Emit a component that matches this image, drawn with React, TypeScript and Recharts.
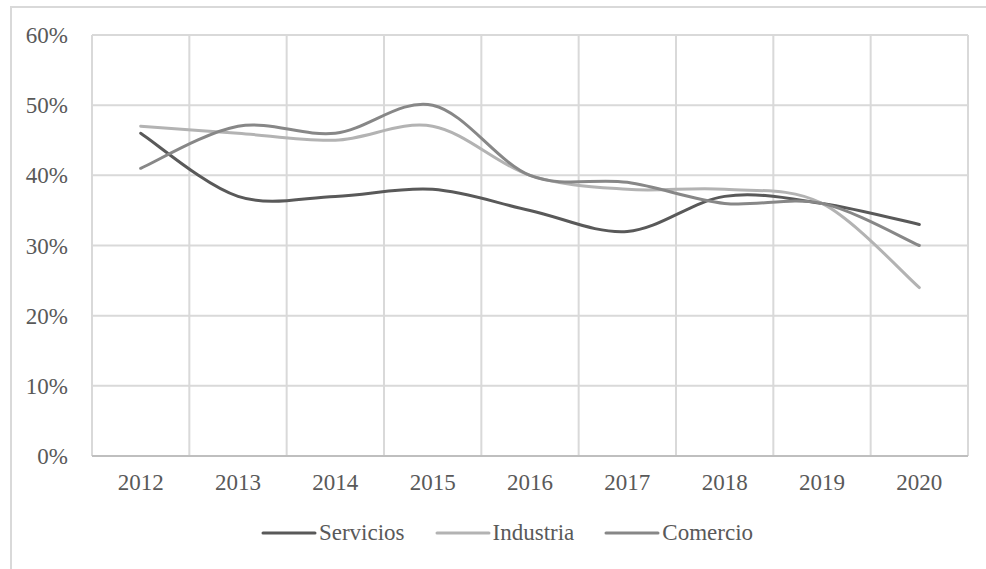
import React from 'react'
import { LineChart, Line, XAxis, YAxis, CartesianGrid } from 'recharts'

const years = ['2012', '2013', '2014', '2015', '2016', '2017', '2018', '2019', '2020']
const servicios = [46, 37, 37, 38, 35, 32, 37, 36, 33]
const industria = [47, 46, 45, 47, 40, 38, 38, 36, 24]
const comercio = [41, 47, 46, 50, 40, 39, 36, 36, 30]
const yTicks = [0, 10, 20, 30, 40, 50, 60]

const series = [
  { key: 'Servicios', color: '#595959' },
  { key: 'Industria', color: '#b3b3b3' },
  { key: 'Comercio', color: '#878787' },
]

const font = '"Liberation Serif", "Times New Roman", serif'
const textColor = '#595959'

// Excel-like smoothing (Catmull-Rom style bezier)
const smoothCurve = (ctx: any) => {
  let pts: [number, number][] = []
  return {
    areaStart() {},
    areaEnd() {},
    lineStart() { pts = [] },
    point(x: number, y: number) { pts.push([+x, +y]) },
    lineEnd() {
      if (!pts.length) return
      ctx.moveTo(pts[0][0], pts[0][1])
      for (let i = 0; i < pts.length - 1; i++) {
        const p0 = pts[i - 1] || pts[i]
        const p1 = pts[i]
        const p2 = pts[i + 1]
        const p3 = pts[i + 2] || p2
        ctx.bezierCurveTo(
          p1[0] + (p2[0] - p0[0]) / 6, p1[1] + (p2[1] - p0[1]) / 6,
          p2[0] - (p3[0] - p1[0]) / 6, p2[1] - (p3[1] - p1[1]) / 6,
          p2[0], p2[1]
        )
      }
    },
  }
}

const bandEdges = ({ offset }: any) =>
  Array.from({ length: years.length + 1 }, (_, i) => offset.left + (offset.width * i) / years.length)

const LegendRow = () => (
  <div style={{ position: 'absolute', left: 0, top: 520, width: 1014, display: 'flex', justifyContent: 'center', fontFamily: font, fontSize: 23, color: textColor }}>
    {series.map((s) => (
      <div key={s.key} style={{ display: 'flex', alignItems: 'center', margin: '0 15px' }}>
        <svg width={56} height={6} style={{ marginRight: 2 }}>
          <line x1={2} y1={3} x2={54} y2={3} stroke={s.color} strokeWidth={3} strokeLinecap="round" />
        </svg>
        <span>{s.key}</span>
      </div>
    ))}
  </div>
)

const App = () => {
  const data = years.map((y, i) => ({
    year: y,
    Servicios: servicios[i],
    Industria: industria[i],
    Comercio: comercio[i],
  }))

  return (
    <div style={{ position: 'absolute', left: 0, top: 0, width: 986, height: 569, overflow: 'hidden', background: '#fff' }}>
      <div style={{ position: 'absolute', left: 10, top: 6, width: 990, height: 600, borderTop: '2px solid #d9d9d9', borderLeft: '2px solid #d9d9d9' }} />
      <LineChart
        width={986}
        height={569}
        data={data}
        margin={{ top: 35, right: 18, left: 0, bottom: 0 }}
        style={{ position: 'absolute', left: 0, top: 0 }}
      >
        <CartesianGrid stroke="#d9d9d9" strokeWidth={2} verticalCoordinatesGenerator={bandEdges} />
        <XAxis
          dataKey="year"
          scale="band"
          axisLine={{ stroke: '#bfbfbf', strokeWidth: 2 }}
          tickLine={false}
          tickSize={0}
          tickMargin={18}
          tick={{ fill: textColor, fontSize: 23, fontFamily: font }}
          height={113}
        />
        <YAxis
          domain={[0, 60]}
          ticks={yTicks}
          tickFormatter={(v) => `${v}%`}
          axisLine={false}
          tickLine={false}
          tickSize={0}
          tickMargin={24}
          width={92}
          tick={{ fill: textColor, fontSize: 23, fontFamily: font }}
        />
        {series.map((s) => (
          <Line
            key={s.key}
            dataKey={s.key}
            type={smoothCurve as any}
            stroke={s.color}
            strokeWidth={3}
            strokeLinecap="round"
            dot={false}
            activeDot={false}
            isAnimationActive={false}
          />
        ))}
      </LineChart>
      <LegendRow />
    </div>
  )
}

export default App
